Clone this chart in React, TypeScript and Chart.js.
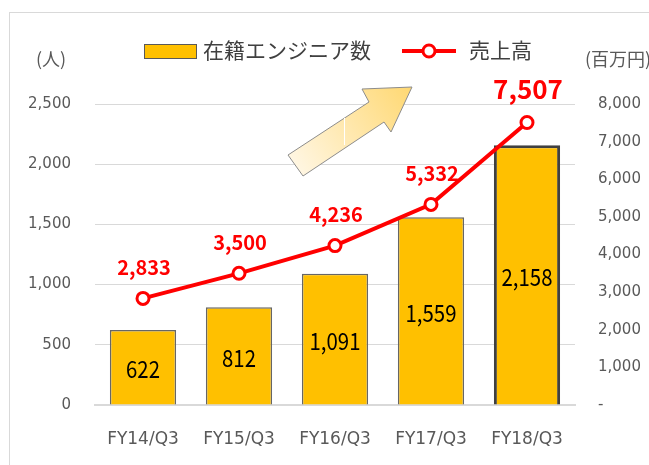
import React, { useEffect, useRef } from "react";
import { Chart, registerables } from "chart.js";

Chart.register(...registerables);

// ---- data ----
const categories = ["FY14/Q3", "FY15/Q3", "FY16/Q3", "FY17/Q3", "FY18/Q3"];
const engineers = [622, 812, 1091, 1559, 2158];
const sales = [2833, 3500, 4236, 5332, 7507];
const engineerLabel = "在籍エンジニア数";
const salesLabel = "売上高";
const leftUnit = "(人)";
const rightUnit = "(百万円)";
const leftMax = 2500;
const leftStep = 500;
const rightMax = 8000;
const rightStep = 1000;

const fmt = (v: number) => v.toLocaleString("en-US");
const CJK = '"Noto Sans CJK JP", "Noto Sans", sans-serif';
const BAR_FILL = "#FFC000";
const RED = "#FF0000";

const decoPlugin = {
  id: "deco",
  beforeDatasetsDraw(chart: any) {
    const { ctx, chartArea: ca } = chart;
    const L = ca.left;
    const T = ca.top;
    const pts = [
      [193, 51],
      [274, -2],
      [267, -15],
      [317, -17],
      [296, 28],
      [289, 18],
      [208, 72],
    ];
    ctx.save();
    const g = ctx.createLinearGradient(L + 200, T + 62, L + 317, T - 17);
    g.addColorStop(0, "#FFF6E2");
    g.addColorStop(1, "#FFD872");
    ctx.beginPath();
    pts.forEach(([x, y], i) => (i === 0 ? ctx.moveTo(L + x, T + y) : ctx.lineTo(L + x, T + y)));
    ctx.closePath();
    ctx.fillStyle = g;
    ctx.fill();
    ctx.strokeStyle = "#8C8C8C";
    ctx.lineWidth = 1;
    ctx.stroke();
    ctx.beginPath();
    ctx.moveTo(L + 249.5, T + 14);
    ctx.lineTo(L + 249.5, T + 41);
    ctx.strokeStyle = "#FFFFFF";
    ctx.stroke();
    ctx.restore();
  },
  afterDatasetsDraw(chart: any) {
    const { ctx, chartArea: ca } = chart;
    ctx.save();
    // bar value labels
    const barMeta = chart.getDatasetMeta(0);
    barMeta.data.forEach((bar: any, i: number) => {
      const cy = (bar.y + bar.base) / 2;
      ctx.save();
      ctx.translate(bar.x, cy);
      ctx.scale(0.85, 1);
      ctx.font = `400 24px ${CJK}`;
      ctx.fillStyle = "#000000";
      ctx.textAlign = "center";
      ctx.textBaseline = "middle";
      ctx.fillText(fmt(engineers[i]), 0, 2);
      ctx.restore();
    });
    // line value labels
    const lineMeta = chart.getDatasetMeta(1);
    lineMeta.data.forEach((pt: any, i: number) => {
      const last = i === sales.length - 1;
      ctx.font = `700 ${last ? 26 : 20}px ${CJK}`;
      ctx.fillStyle = RED;
      ctx.textAlign = "center";
      ctx.textBaseline = "middle";
      ctx.fillText(fmt(sales[i]), pt.x + 1, pt.y - (last ? 33 : 31));
    });
    ctx.restore();

    // legend
    ctx.save();
    ctx.font = `400 21px ${CJK}`;
    const w1 = ctx.measureText(engineerLabel).width;
    const w2 = ctx.measureText(salesLabel).width;
    const total = 53 + 6 + w1 + 31 + 54 + 13 + w2;
    let x = (ca.left + ca.right) / 2 + 3 - total / 2;
    const y = 51;
    ctx.fillStyle = BAR_FILL;
    ctx.fillRect(x, y - 7, 53, 15);
    ctx.strokeStyle = "#595959";
    ctx.lineWidth = 1;
    ctx.strokeRect(x + 0.5, y - 6.5, 52, 14);
    x += 59;
    ctx.fillStyle = "#404040";
    ctx.textAlign = "left";
    ctx.textBaseline = "middle";
    ctx.fillText(engineerLabel, x, y - 1);
    x += w1 + 31;
    ctx.strokeStyle = RED;
    ctx.lineWidth = 4;
    ctx.beginPath();
    ctx.moveTo(x, y);
    ctx.lineTo(x + 54, y);
    ctx.stroke();
    ctx.beginPath();
    ctx.arc(x + 27, y, 6, 0, Math.PI * 2);
    ctx.fillStyle = "#FFFFFF";
    ctx.fill();
    ctx.lineWidth = 3;
    ctx.stroke();
    x += 54 + 13;
    ctx.fillStyle = "#404040";
    ctx.fillText(salesLabel, x, y - 1);

    // axis unit titles
    ctx.font = `400 18px ${CJK}`;
    ctx.fillStyle = "#595959";
    ctx.textAlign = "center";
    ctx.fillText(leftUnit, ca.left - 44, 59);
    ctx.fillText(rightUnit, ca.right + 43, 59);
    ctx.restore();
  },
};

export default function App() {
  const ref = useRef<HTMLCanvasElement | null>(null);
  useEffect(() => {
    if (!ref.current) return;
    const lastIdx = engineers.length - 1;
    const chart = new Chart(ref.current, {
      type: "bar",
      data: {
        labels: categories,
        datasets: [
          {
            type: "bar",
            label: engineerLabel,
            data: engineers,
            yAxisID: "y",
            backgroundColor: BAR_FILL,
            borderColor: engineers.map((_, i) => (i === lastIdx ? "#404040" : "#666666")),
            borderWidth: engineers.map((_, i) => (i === lastIdx ? 3 : 1.5)),
            categoryPercentage: 1,
            barPercentage: 0.69,
            order: 1,
          },
          {
            type: "line",
            label: salesLabel,
            data: sales,
            yAxisID: "y1",
            borderColor: RED,
            borderWidth: 4,
            pointRadius: 6,
            pointBorderWidth: 3,
            pointBackgroundColor: "#FFFFFF",
            pointBorderColor: RED,
            tension: 0,
            order: 0,
          },
        ],
      },
      options: {
        responsive: false,
        animation: false,
        layout: { padding: { top: 104, left: 0, right: 0, bottom: 0 } },
        plugins: { legend: { display: false }, tooltip: { enabled: false }, title: { display: false } },
        scales: {
          x: {
            offset: true,
            grid: { display: false },
            border: { display: true, color: "#D9D9D9", width: 2 },
            ticks: { color: "#595959", font: { family: "DejaVu Sans", size: 17 }, padding: 16 },
            afterFit: (s: any) => {
              s.height = 60;
            },
          },
          y: {
            position: "left",
            min: 0,
            max: leftMax,
            grid: { color: "#D9D9D9", lineWidth: 1, drawTicks: false },
            border: { display: false },
            ticks: {
              stepSize: leftStep,
              color: "#595959",
              font: { family: "DejaVu Sans", size: 15 },
              padding: 24,
              callback: (v: any) => fmt(Number(v)),
            },
            afterFit: (s: any) => {
              s.width = 95;
            },
          },
          y1: {
            position: "right",
            min: 0,
            max: rightMax,
            grid: { display: false, drawTicks: false },
            border: { display: false },
            ticks: {
              stepSize: rightStep,
              color: "#595959",
              font: { family: "DejaVu Sans", size: 15 },
              padding: 23,
              callback: (v: any) => (Number(v) === 0 ? "-" : fmt(Number(v))),
            },
            afterFit: (s: any) => {
              s.width = 74;
            },
          },
        },
      },
      plugins: [decoPlugin],
    });
    return () => chart.destroy();
  }, []);

  return (
    <>
      <div
        style={{
          position: "fixed",
          left: 9,
          top: 12,
          width: 640,
          height: 453,
          borderLeft: "1px solid #D9D9D9",
          borderTop: "1px solid #D9D9D9",
          boxSizing: "border-box",
        }}
      />
      <canvas
        ref={ref}
        width={649}
        height={465}
        style={{ position: "fixed", left: 0, top: 0, width: 649, height: 465 }}
      />
    </>
  );
}
